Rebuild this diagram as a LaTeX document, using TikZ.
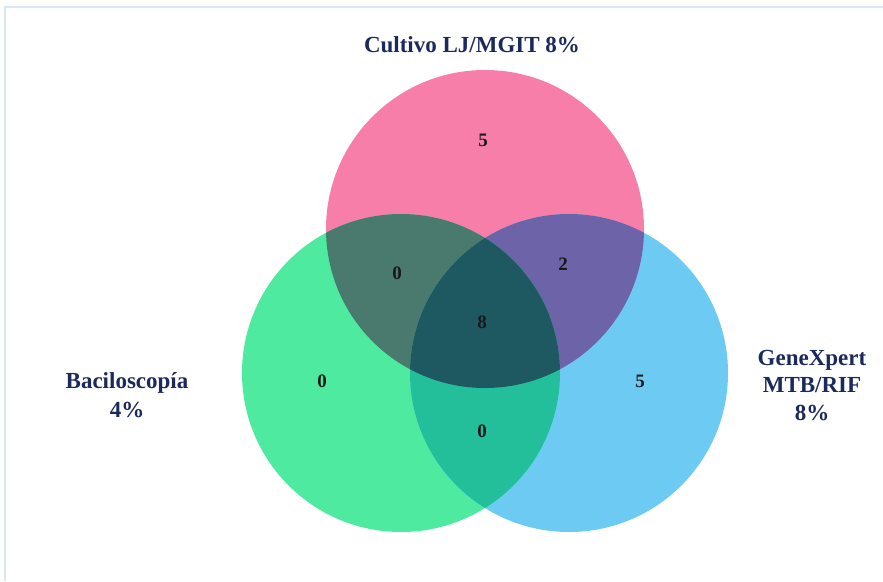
\documentclass[tikz,border=0pt]{standalone}
\usepackage{fontspec}
\setmainfont{Liberation Serif}
\definecolor{cpink}{HTML}{F77EA9}
\definecolor{cgreen}{HTML}{4EEAA0}
\definecolor{cblue}{HTML}{6DCBF3}
\definecolor{cpg}{HTML}{4A7A6D}
\definecolor{cpb}{HTML}{6C63A8}
\definecolor{cgb}{HTML}{23BF9B}
\definecolor{cpgb}{HTML}{1E5962}
\definecolor{navy}{HTML}{1B2A5C}
\definecolor{frame}{HTML}{D9E6F6}
\tikzset{
  setlabel/.style={font=\fontsize{23}{27}\selectfont\bfseries, text=navy, anchor=base, inner sep=0pt},
  count/.style={font=\fontsize{19}{22}\selectfont\bfseries, text=black!90, inner sep=0pt}
}
\begin{document}
\begin{tikzpicture}[x=1pt,y=-1pt]
\useasboundingbox (0,0) rectangle (883,581);
\fill[white] (0,0) rectangle (883,581);
\draw[frame, line width=1.5pt] (5,581) -- (5,7) -- (883,7);
\def\ca{(485,229) circle[radius=159]}
\def\cb{(401,373) circle[radius=159]}
\def\cc{(569,373) circle[radius=159]}
\fill[cpink] \ca;
\fill[cgreen] \cb;
\fill[cblue] \cc;
\begin{scope}\clip \ca; \fill[cpg] \cb; \end{scope}
\begin{scope}\clip \ca; \fill[cpb] \cc; \end{scope}
\begin{scope}\clip \cb; \fill[cgb] \cc; \end{scope}
\begin{scope}\clip \ca; \clip \cb; \fill[cpgb] \cc; \end{scope}
\node[setlabel] (cult) at (472,52) {Cultivo LJ/MGIT 8\%};
\node[setlabel] (bac1) at (127,388) {Baciloscopía};
\node[setlabel] (bac2) at (127,417) {4\%};
\node[setlabel] (gx1) at (812,365) {GeneXpert};
\node[setlabel] (gx2) at (812,392) {MTB/RIF};
\node[setlabel] (gx3) at (812,420) {8\%};
\node[count] (nA) at (483,140) {5};
\node[count] (nAB) at (397,273) {0};
\node[count] (nAC) at (563,264) {2};
\node[count] (nABC) at (482,322) {8};
\node[count] (nB) at (322,381) {0};
\node[count] (nC) at (640,381) {5};
\node[count] (nBC) at (482,431) {0};
\end{tikzpicture}
\end{document}
